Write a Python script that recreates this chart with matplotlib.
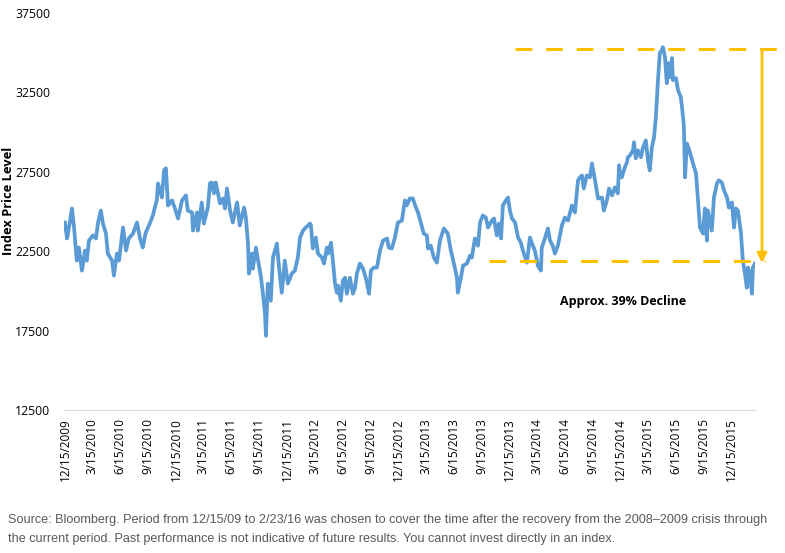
import pandas as pd
import matplotlib
matplotlib.use("Agg")
import matplotlib.pyplot as plt
from matplotlib import font_manager

START = pd.Timestamp("2009-12-15")

# days since 12/15/2009 and index level
days = [0, 7, 16, 23, 30, 39, 46, 56, 66, 72, 79, 92, 102, 109, 118, 125, 135, 141, 155, 161,
        171, 178, 191, 201, 210, 224, 237, 247, 256, 266, 279, 289, 302, 306, 319, 326, 332, 339, 352, 362,
        372, 385, 398, 404, 418, 421, 434, 437, 450, 457, 470, 477, 483, 490, 496, 510, 520, 526, 533, 543,
        552, 566, 575, 589, 595, 602, 605, 615, 618, 628, 635, 644, 651, 658, 661, 667, 677, 684, 697, 704,
        713, 723, 733, 746, 756, 766, 773, 783, 792, 806, 809, 815, 825, 832, 845, 852, 861, 865, 875, 881,
        888, 894, 898, 907, 914, 921, 927, 937, 947, 954, 960, 970, 980, 990, 1000, 1006, 1016, 1026, 1036, 1046,
        1059, 1065, 1075, 1085, 1095, 1108, 1118, 1124, 1134, 1144, 1154, 1161, 1171, 1180, 1190, 1194, 1203, 1213, 1223, 1233,
        1246, 1259, 1269, 1279, 1289, 1292, 1302, 1309, 1322, 1332, 1338, 1348, 1358, 1365, 1374, 1384, 1391, 1404, 1411, 1420,
        1427, 1434, 1440, 1450, 1457, 1463, 1470, 1480, 1490, 1499, 1506, 1519, 1529, 1536, 1545, 1552, 1555, 1565, 1568, 1578,
        1588, 1595, 1604, 1611, 1621, 1634, 1644, 1654, 1667, 1677, 1687, 1693, 1700, 1706, 1716, 1726, 1733, 1743, 1753, 1766,
        1772, 1782, 1789, 1799, 1808, 1818, 1822, 1825, 1831, 1841, 1848, 1851, 1858, 1868, 1871, 1877, 1884, 1894, 1900, 1910,
        1917, 1923, 1930, 1937, 1943, 1950, 1956, 1963, 1966, 1973, 1979, 1983, 1989, 1996, 1999, 2009, 2016, 2025, 2029, 2035,
        2039, 2045, 2055, 2065, 2075, 2081, 2088, 2098, 2104, 2111, 2114, 2127, 2134, 2144, 2150, 2160, 2167, 2177, 2183, 2193,
        2200, 2206, 2213, 2223, 2229, 2236, 2242, 2246, 2252, 2259, 2262, 2269]

level = [24310, 23300, 24310, 25190, 23990, 21910, 22730, 21280, 22540, 21910, 23170, 23490, 23300, 24310, 25060, 24240, 23610, 22350, 21910, 20960,
         22350, 21910, 23990, 22540, 23300, 23610, 24310, 23300, 22730, 23680, 24240, 24750, 25700, 26770, 25880, 27590, 27720, 25380, 25700, 25190,
         24560, 25700, 26010, 25060, 24940, 23800, 24940, 23800, 25570, 24240, 25250, 26770, 26830, 26140, 26830, 25510, 25820, 25190, 26450, 25060,
         24310, 25570, 24120, 25250, 24620, 22980, 21090, 22350, 21400, 22730, 21910, 20960, 19820, 18560, 17170, 20460, 19380, 22100, 22980, 21470,
         19890, 21910, 20460, 21090, 21280, 22100, 23360, 23800, 23990, 24240, 24120, 22670, 23360, 22350, 22100, 21720, 22730, 22350, 23040, 21910,
         20460, 19890, 20330, 19380, 20650, 20830, 19820, 20830, 19820, 20200, 21090, 21720, 21400, 20770, 19820, 21280, 21470, 21470, 22540, 23170,
         23300, 22730, 22670, 23360, 24310, 24430, 25700, 25380, 25820, 25820, 25250, 24940, 24240, 23610, 23490, 22670, 22850, 22100, 21780, 23170,
         23930, 23610, 22540, 21720, 20830, 19890, 20830, 21590, 21720, 22220, 22100, 23300, 22850, 24310, 24750, 24620, 23990, 24430, 24560, 23490,
         24240, 23300, 25380, 25700, 25880, 25060, 24560, 24310, 23360, 23040, 22540, 21780, 23360, 22980, 22540, 21910, 21590, 21280, 22730, 23300,
         23930, 23170, 22850, 22350, 22850, 24120, 24620, 24430, 25380, 24940, 26960, 27150, 27270, 26450, 27270, 27150, 28030, 26960, 25820, 25880,
         25060, 25700, 26450, 26010, 26520, 26140, 27910, 27400, 27150, 27780, 28090, 28410, 28540, 28850, 29360, 28350, 28850, 28410, 28980, 29480,
         28220, 27590, 29040, 29670, 30940, 33270, 34980, 35160, 35350, 34720, 33080, 34340, 33460, 34660, 33270, 33400, 32640, 32200, 31570, 30430,
         27150, 29290, 28730, 28030, 27400, 25880, 23990, 23610, 25190, 23170, 25060, 23800, 25880, 26770, 26960, 26830, 26330, 25880, 25250, 25570,
         23990, 25190, 25060, 23610, 21910, 21090, 20200, 21470, 21090, 19820, 21470, 21720]

peak_level = 35230
trough_level = 21910
decline_label = "Approx. 39% Decline"

dates = START + pd.to_timedelta(days, unit="D")
ticks = pd.date_range("2009-12-01", "2015-12-01", freq="3MS") + pd.Timedelta(days=14)
tick_labels = [f"{d.month}/{d.day}/{d.year}" for d in ticks]

def day(n):
    return START + pd.Timedelta(days=n)

installed = {f.name for f in font_manager.fontManager.ttflist}
if "Liberation Sans Narrow" in installed:
    note_font, note_size = "Liberation Sans Narrow", 9.3
else:
    note_font, note_size = "Liberation Sans", 9.1

fig = plt.figure(figsize=(7.85, 5.53), dpi=100)
ax = fig.add_axes([64 / 785, 1 - 410 / 553, 691 / 785, 397 / 553])

ax.plot(dates, level, color="#5B9BD5", linewidth=2.7, solid_joinstyle="round")

gold = "#FFC000"
ax.plot([day(1480), day(2351)], [peak_level, peak_level], color=gold, lw=2.2,
        dashes=(5.5, 4.5), clip_on=False)
ax.plot([day(1394), day(2302)], [trough_level, trough_level], color=gold, lw=2.2,
        dashes=(5.5, 4.5), clip_on=False)
ax.annotate("", xy=(day(2292), trough_level - 150), xytext=(day(2292), peak_level),
            arrowprops=dict(arrowstyle="-|>", color=gold, lw=2.0, mutation_scale=14,
                            shrinkA=0, shrinkB=0), annotation_clip=False)
ax.text(day(1835), 19320, decline_label, ha="center", va="center", fontsize=9,
        fontweight="bold", family="Open Sans", color="black")

ax.set_ylim(12500, 37500)
ax.set_yticks(range(12500, 37501, 5000))
ax.set_xlim(day(-3), day(2269))
ax.set_xticks(ticks)
ax.set_xticklabels(tick_labels, rotation=90, family="Open Sans", fontsize=8.5)
for lab in ax.get_yticklabels():
    lab.set_family("Open Sans")
    lab.set_fontsize(8.8)
ax.tick_params(axis="y", length=0, pad=10)
ax.tick_params(axis="x", length=0, pad=6)
for s in ["top", "right", "left"]:
    ax.spines[s].set_visible(False)
ax.spines["bottom"].set_color("#D9D9D9")

fig.text(0.011, 1 - 201 / 553, "Index Price Level", rotation=90, ha="center", va="center",
         fontsize=9.3, fontweight="bold", family="Open Sans")

note = ("Source: Bloomberg. Period from 12/15/09 to 2/23/16 was chosen to cover the time after the recovery "
        "from the 2008\u20132009 crisis through\nthe current period. Past performance is not indicative of "
        "future results. You cannot invest directly in an index.")
fig.text(8 / 785, 1 - 514 / 553, note, ha="left", va="top", fontsize=note_size, color="#595959",
         family=[note_font, "DejaVu Sans"], linespacing=1.8)

fig.savefig("out.png", dpi=100)
